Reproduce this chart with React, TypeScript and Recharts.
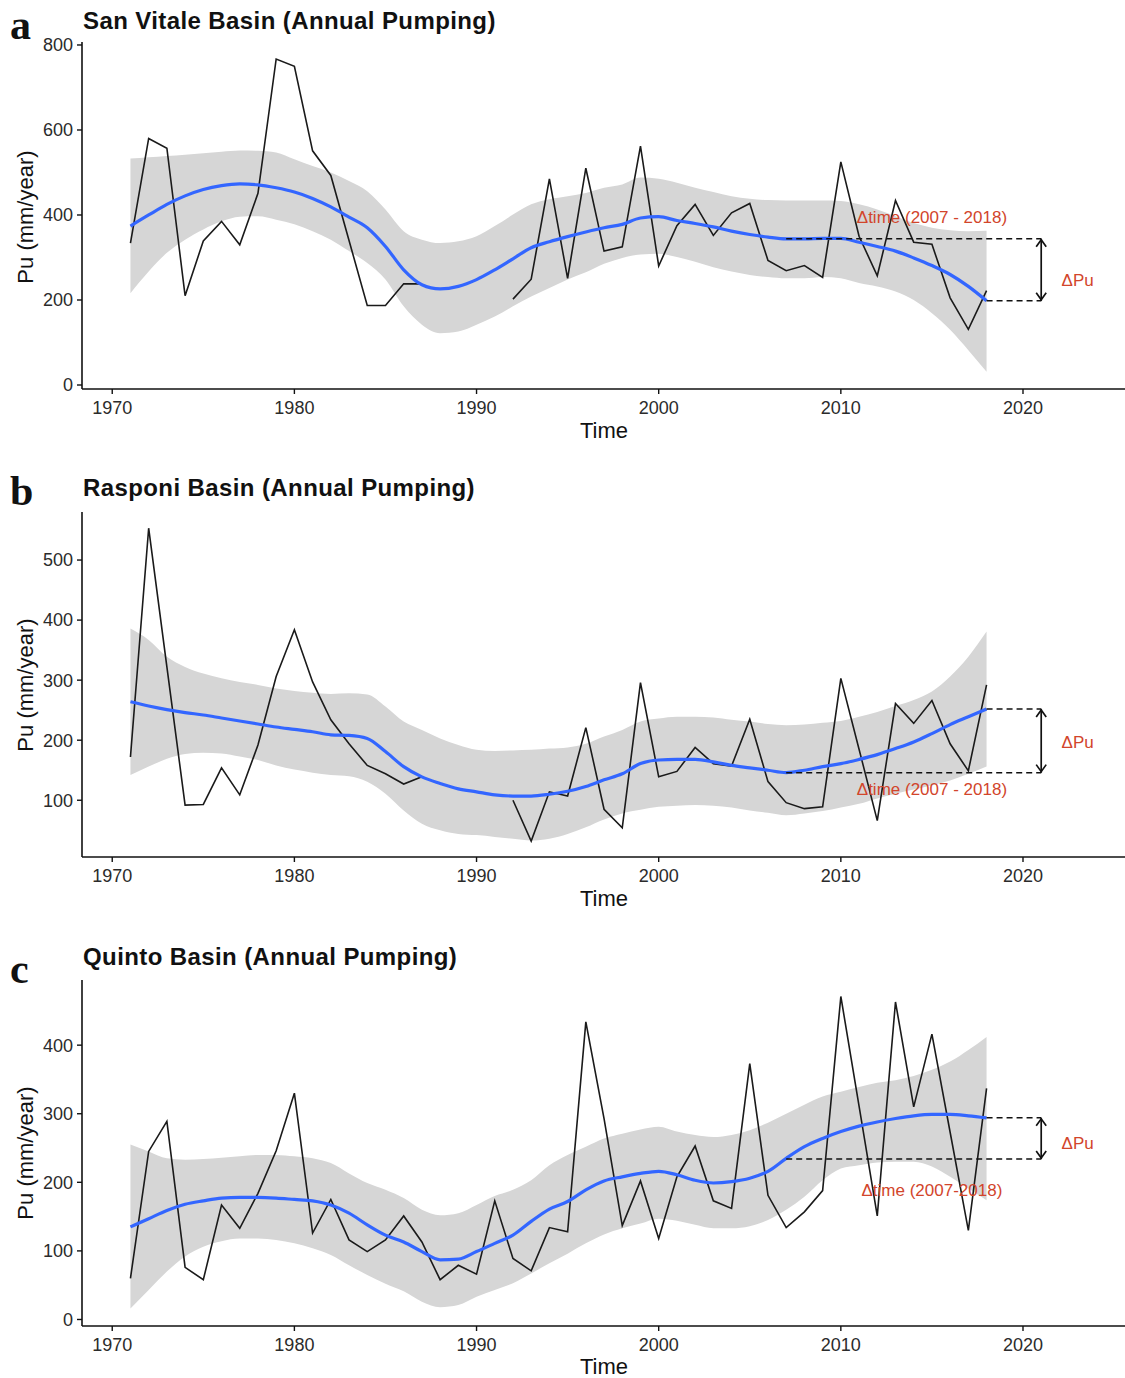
import {
  ComposedChart,
  Area,
  Line,
  XAxis,
  YAxis,
  ReferenceLine,
  ReferenceDot,
} from 'recharts';

// years covered by all three basins
const years = [
  1971, 1972, 1973, 1974, 1975, 1976, 1977, 1978, 1979, 1980, 1981, 1982,
  1983, 1984, 1985, 1986, 1987, 1988, 1989, 1990, 1991, 1992, 1993, 1994,
  1995, 1996, 1997, 1998, 1999, 2000, 2001, 2002, 2003, 2004, 2005, 2006,
  2007, 2008, 2009, 2010, 2011, 2012, 2013, 2014, 2015, 2016, 2017, 2018,
];

const xTicks = [1970, 1980, 1990, 2000, 2010, 2020];

// San Vitale (a)
const sanVitalePu = [
  334, 580, 557, 210, 339, 385, 330, 451, 767, 750, 551, 493,
  340, 187, 187, 238, 238, null, null, null, null, 202, 249, 485,
  251, 510, 315, 325, 562, 280, 375, 425, 352, 405, 427, 293,
  269, 281, 253, 525, 350, 257, 434, 336, 331, 205, 131, 222,
];
const sanVitaleFit = [
  374, 400, 425, 445, 460, 469, 473, 471, 464, 454, 439, 419,
  395, 370, 326, 271, 236, 226, 232, 248, 271, 297, 323, 337,
  349, 360, 370, 378, 393, 396, 387, 380, 372, 362, 354, 348,
  344, 344, 345, 345, 336, 326, 315, 299, 281, 260, 232, 198,
];
const sanVitaleHi = [
  533, 536, 539, 542, 545, 549, 552, 551, 547, 531, 515, 500,
  480, 456, 413, 362, 342, 334, 338, 350, 374, 401, 425, 437,
  444, 452, 464, 472, 488, 485, 476, 464, 454, 444, 438, 435,
  434, 434, 434, 433, 425, 413, 397, 381, 370, 364, 362, 363,
];
const sanVitaleLo = [
  216, 267, 311, 342, 366, 385, 396, 397, 389, 378, 362, 342,
  315, 287, 248, 185, 142, 122, 126, 142, 161, 185, 208, 228,
  248, 265, 285, 299, 307, 309, 301, 290, 277, 267, 259, 254,
  251, 251, 254, 251, 240, 232, 220, 200, 169, 130, 82, 31,
];

// Rasponi (b)
const rasponiPu = [
  172, 553, 322, 92, 93, 154, 109, 192, 306, 384, 297, 234,
  194, 158, 144, 127, 139, null, null, null, null, 100, 32, 114,
  107, 221, 85, 54, 296, 139, 148, 188, 161, 157, 235, 131,
  96, 86, 89, 303, 185, 66, 261, 228, 266, 194, 149, 292,
];
const rasponiFit = [
  264, 257, 251, 246, 242, 237, 232, 227, 222, 218, 214, 209,
  208, 203, 181, 156, 139, 128, 119, 114, 109, 107, 107, 110,
  115, 123, 134, 144, 161, 167, 168, 168, 164, 158, 154, 150,
  146, 150, 156, 161, 168, 176, 186, 197, 211, 226, 239, 252,
];
const rasponiHi = [
  386, 367, 339, 322, 311, 303, 297, 292, 286, 282, 279, 277,
  278, 276, 256, 231, 217, 203, 192, 184, 182, 183, 184, 186,
  188, 194, 206, 217, 231, 236, 239, 239, 238, 234, 231, 227,
  225, 226, 229, 232, 239, 247, 257, 267, 281, 306, 339, 381,
];
const rasponiLo = [
  142, 156, 169, 177, 179, 178, 173, 167, 158, 151, 146, 142,
  140, 131, 111, 83, 61, 50, 44, 42, 39, 36, 33, 36,
  44, 55, 68, 78, 84, 89, 91, 92, 91, 88, 83, 79,
  75, 78, 82, 88, 94, 103, 111, 118, 125, 133, 144, 156,
];

// Quinto (c)
const quintoPu = [
  60, 245, 289, 76, 58, 167, 133, 184, 246, 330, 126, 175,
  116, 99, 116, 151, 113, 58, 79, 66, 173, 89, 71, 134,
  128, 434, 293, 137, 202, 118, 208, 253, 173, 162, 373, 181,
  134, 157, 188, 471, 311, 151, 463, 310, 416, 273, 130, 337,
];
const quintoFit = [
  135, 147, 159, 168, 173, 177, 178, 178, 177, 175, 173, 167,
  155, 138, 123, 113, 99, 87, 88, 99, 111, 123, 143, 161,
  172, 189, 202, 208, 213, 216, 211, 203, 199, 201, 206, 216,
  235, 252, 264, 274, 282, 288, 293, 297, 299, 299, 297, 294,
];
const quintoHi = [
  255, 245, 235, 233, 234, 236, 238, 240, 240, 238, 235, 228,
  213, 199, 189, 177, 160, 152, 155, 167, 180, 189, 203, 225,
  240, 252, 264, 271, 277, 281, 274, 269, 266, 269, 276, 287,
  300, 313, 325, 332, 339, 345, 349, 355, 364, 376, 393, 412,
];
const quintoLo = [
  16, 43, 70, 92, 106, 114, 118, 118, 116, 111, 104, 94,
  79, 65, 52, 41, 26, 18, 21, 33, 43, 53, 67, 82,
  96, 111, 124, 133, 140, 147, 144, 138, 133, 133, 136, 145,
  160, 179, 203, 220, 225, 229, 230, 230, 223, 208, 191, 174,
];

// annotation values: [fit at 2007, fit at 2018, Δtime label y, ΔPu label y]
const sanVitaleNote = [344, 198, 396, 247];
const rasponiNote = [146, 252, 118, 197];
const quintoNote = [234, 294, 189, 258];

const RED = '#d2452b';
const X_DOMAIN = [1968.34, 2025.6];

function buildRows(pu: (number | null)[], fit: number[], lo: number[], hi: number[]) {
  return years.map((year, i) => ({
    year,
    pu: pu[i],
    fit: fit[i],
    band: [lo[i], hi[i]],
  }));
}

const DoubleArrow = (props: any) => {
  const { x1, y1, y2 } = props;
  const top = Math.min(y1, y2);
  const bot = Math.max(y1, y2);
  return (
    <g stroke="#111" strokeWidth={1.7} fill="none">
      <line x1={x1} y1={top} x2={x1} y2={bot} />
      <polyline points={`${x1 - 5},${top + 8} ${x1},${top + 1} ${x1 + 5},${top + 8}`} />
      <polyline points={`${x1 - 5},${bot - 8} ${x1},${bot - 1} ${x1 + 5},${bot - 8}`} />
    </g>
  );
};

type PanelProps = {
  top: number;
  height: number;
  axisH: number;
  rows: any[];
  yDomain: number[];
  yTicks: number[];
  note: number[];
  timeLabel: string;
};

function Panel({ top, height, axisH, rows, yDomain, yTicks, note, timeLabel }: PanelProps) {
  const [y2007, y2018, timeY, puY] = note;
  return (
    <div style={{ position: 'absolute', left: 0, top }}>
      <ComposedChart
        width={1125}
        height={height}
        data={rows}
        margin={{ top: 42, right: 0, bottom: 0, left: 0 }}
      >
        <XAxis
          type="number"
          dataKey="year"
          domain={X_DOMAIN}
          ticks={xTicks}
          interval={0}
          allowDataOverflow
          height={axisH}
          tickSize={5}
          tickMargin={7}
          axisLine={{ stroke: '#111', strokeWidth: 1.6 }}
          tickLine={{ stroke: '#111', strokeWidth: 1.4 }}
          tick={{ fill: '#2b2b2b', fontSize: 18 }}
        />
        <YAxis
          type="number"
          domain={yDomain}
          ticks={yTicks}
          interval={0}
          allowDataOverflow
          width={82}
          tickSize={5}
          tickMargin={4}
          axisLine={{ stroke: '#111', strokeWidth: 1.6 }}
          tickLine={{ stroke: '#111', strokeWidth: 1.4 }}
          tick={{ fill: '#2b2b2b', fontSize: 18 }}
        />
        <Area
          dataKey="band"
          type="monotone"
          fill="#d6d6d6"
          fillOpacity={1}
          stroke="none"
          isAnimationActive={false}
        />
        <Line
          dataKey="pu"
          type="linear"
          stroke="#1a1a1a"
          strokeWidth={1.6}
          dot={false}
          connectNulls={false}
          isAnimationActive={false}
        />
        <Line
          dataKey="fit"
          type="monotone"
          stroke="#3366ff"
          strokeWidth={3.2}
          dot={false}
          isAnimationActive={false}
        />
        <ReferenceLine
          segment={[{ x: 2007, y: y2007 }, { x: 2021, y: y2007 }]}
          stroke="#111"
          strokeWidth={1.5}
          strokeDasharray="6 4"
        />
        <ReferenceLine
          segment={[{ x: 2018, y: y2018 }, { x: 2021, y: y2018 }]}
          stroke="#111"
          strokeWidth={1.5}
          strokeDasharray="6 4"
        />
        <ReferenceLine
          segment={[{ x: 2021, y: y2007 }, { x: 2021, y: y2018 }]}
          shape={DoubleArrow}
        />
        <ReferenceDot
          x={2015}
          y={timeY}
          r={0}
          fill="none"
          stroke="none"
          label={{ value: timeLabel, position: 'center', fill: RED, fontSize: 17 }}
        />
        <ReferenceDot
          x={2023}
          y={puY}
          r={0}
          fill="none"
          stroke="none"
          label={{ value: 'ΔPu', position: 'center', fill: RED, fontSize: 17 }}
        />
      </ComposedChart>
    </div>
  );
}

const titles = [
  { letter: 'a', title: 'San Vitale Basin (Annual Pumping)', letterY: 39, titleY: 29, timeY: 438, puY: 217 },
  { letter: 'b', title: 'Rasponi Basin (Annual Pumping)', letterY: 505, titleY: 496, timeY: 906, puY: 685 },
  { letter: 'c', title: 'Quinto Basin (Annual Pumping)', letterY: 983, titleY: 965, timeY: 1374, puY: 1153 },
];

export default function App() {
  return (
    <div
      style={{
        position: 'absolute',
        left: 0,
        top: 0,
        width: 1125,
        height: 1378,
        background: '#fff',
        fontFamily: '"Liberation Sans", Arial, sans-serif',
        overflow: 'hidden',
      }}
    >
      <Panel
        top={0}
        height={449}
        axisH={60}
        rows={buildRows(sanVitalePu, sanVitaleFit, sanVitaleLo, sanVitaleHi)}
        yDomain={[-9.4, 807]}
        yTicks={[0, 200, 400, 600, 800]}
        note={sanVitaleNote}
        timeLabel="Δtime (2007 - 2018)"
      />
      <Panel
        top={470}
        height={447}
        axisH={60}
        rows={buildRows(rasponiPu, rasponiFit, rasponiLo, rasponiHi)}
        yDomain={[5.5, 580]}
        yTicks={[100, 200, 300, 400, 500]}
        note={rasponiNote}
        timeLabel="Δtime (2007 - 2018)"
      />
      <Panel
        top={938}
        height={440}
        axisH={52}
        rows={buildRows(quintoPu, quintoFit, quintoLo, quintoHi)}
        yDomain={[-9.5, 495]}
        yTicks={[0, 100, 200, 300, 400]}
        note={quintoNote}
        timeLabel="Δtime (2007-2018)"
      />
      <svg
        width={1125}
        height={1378}
        style={{ position: 'absolute', left: 0, top: 0, pointerEvents: 'none' }}
      >
        {titles.map((t) => (
          <g key={t.letter}>
            <text
              x={10}
              y={t.letterY}
              fontFamily='"Liberation Serif", "Times New Roman", serif'
              fontWeight={700}
              fontSize={42}
              fill="#111"
            >
              {t.letter}
            </text>
            <text
              x={83}
              y={t.titleY}
              fontWeight={700}
              fontSize={24}
              letterSpacing={0.4}
              fill="#111"
            >
              {t.title}
            </text>
            <text x={604} y={t.timeY} textAnchor="middle" fontSize={22} fill="#111">
              Time
            </text>
            <text
              x={25}
              y={t.puY}
              textAnchor="middle"
              dominantBaseline="central"
              fontSize={22}
              fill="#111"
              transform={`rotate(-90 25 ${t.puY})`}
            >
              Pu (mm/year)
            </text>
          </g>
        ))}
      </svg>
    </div>
  );
}
